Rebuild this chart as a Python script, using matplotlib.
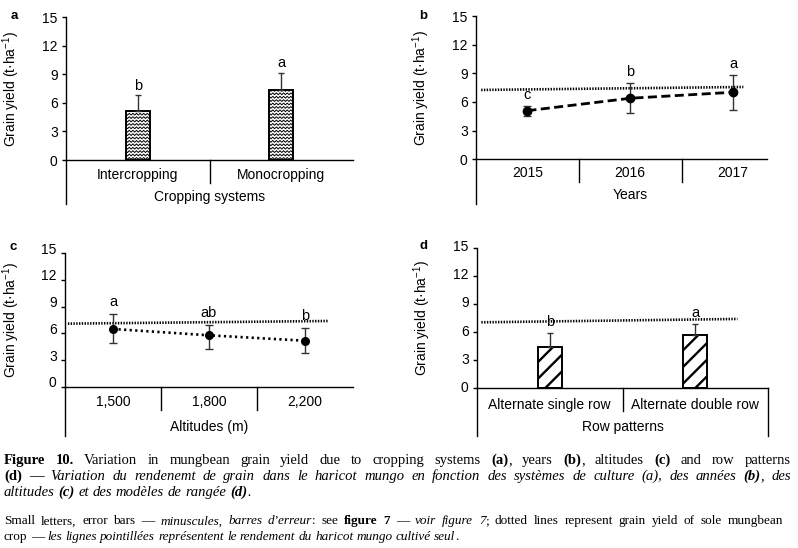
import numpy as np
import matplotlib
matplotlib.use("Agg")
import matplotlib.pyplot as plt
import matplotlib.transforms as mtransforms
from matplotlib.lines import Line2D

# ---- data ----
crop_systems = ['Intercropping', 'Monocropping']
crop_yield = [5.18, 7.36]
crop_err_top = [6.83, 9.18]
crop_letters = ['b', 'a']

years = ['2015', '2016', '2017']
year_yield = [5.09, 6.39, 7.02]
year_low = [4.53, 4.88, 5.16]
year_high = [5.58, 7.96, 8.83]
year_letters = ['c', 'b', 'a']
year_sole = [7.26, 7.57]

altitudes = ['1,500', '1,800', '2,200']
alt_yield = [6.49, 5.78, 5.17]
alt_low = [4.95, 4.24, 3.75]
alt_high = [8.14, 6.90, 6.64]
alt_letters = ['a', 'ab', 'b']
alt_sole = [7.09, 7.39]

row_patterns = ['Alternate single row', 'Alternate double row']
row_yield = [4.44, 5.69]
row_err_top = [5.87, 6.83]
row_letters = ['b', 'a']
row_sole = [7.04, 7.40]

yticks = [0, 3, 6, 9, 12, 15]
ylabel = 'Grain yield (t·ha$^{-1}$)'

W, H = 798, 548
plt.rcParams['font.family'] = ['Liberation Sans', 'DejaVu Sans']
plt.rcParams['mathtext.fontset'] = 'custom'
plt.rcParams['mathtext.rm'] = 'Liberation Sans'
plt.rcParams['mathtext.it'] = 'Liberation Sans:italic'
plt.rcParams['lines.scale_dashes'] = False
plt.rcParams['hatch.linewidth'] = 1.7

fig = plt.figure(figsize=(W / 100, H / 100), dpi=100)
ERR = '#333333'
SOLE = dict(color='black', lw=1.9, ls=(0, (1.0, 1.0)), zorder=1)


def px_axes(l, t, r, b):
    return fig.add_axes([l / W, (H - b) / H, (r - l) / W, (b - t) / H])


def setup(ax, xlim, dividers, labels, label_x, title, title_x, lab_off, title_off,
          ext, letter, letter_xy, ylab_x, right_line=False, label_shift=0):
    ax.set_xlim(*xlim)
    ax.set_ylim(0, 15)
    for s in ['top', 'right']:
        ax.spines[s].set_visible(False)
    for s in ['left', 'bottom']:
        ax.spines[s].set_linewidth(1.0)
    ax.set_xticks([])
    ax.set_yticks(yticks)
    ax.tick_params(axis='y', direction='out', length=3, width=1, pad=3, labelsize=10)
    if label_shift:
        off = mtransforms.ScaledTranslation(0, label_shift / 100, fig.dpi_scale_trans)
        for lab in ax.get_yticklabels():
            lab.set_transform(lab.get_transform() + off)
    pos = ax.get_position()
    wpx, hpx = pos.width * W, pos.height * H
    ax.set_ylabel(ylabel, fontsize=10)
    # label centre x in pixels -> right edge of the rotated label
    ax.yaxis.set_label_coords((ylab_x + 7 - pos.x0 * W) / wpx, 0.5)
    trans = mtransforms.blended_transform_factory(ax.transData, ax.transAxes)
    # y axis continues below the x axis
    ax.add_line(Line2D([0, 0], [0, -ext / hpx], transform=ax.transAxes,
                       color='black', lw=1.0, clip_on=False))
    if right_line:
        ax.add_line(Line2D([1, 1], [0, -ext / hpx], transform=ax.transAxes,
                           color='black', lw=1.0, clip_on=False))
    for d in dividers:
        ax.add_line(Line2D([d, d], [0, -23 / hpx], transform=trans,
                           color='black', lw=1.0, clip_on=False))
    for x, lab in zip(label_x, labels):
        ax.annotate(lab, xy=(x, 0), xycoords=trans, xytext=(0, -lab_off),
                    textcoords='offset pixels', ha='center', va='center', fontsize=10)
    ax.annotate(title, xy=(title_x, 0), xycoords=trans,
                xytext=(0, -title_off), textcoords='offset pixels',
                ha='center', va='center', fontsize=10)
    fig.text(letter_xy[0] / W, (H - letter_xy[1]) / H, letter, ha='center',
             va='center', fontsize=9.5, fontweight='bold')


def put_letters(ax, xs, tops, letters, off):
    for x, t, lt in zip(xs, tops, letters):
        ax.annotate(lt, xy=(x, t), xytext=(0, off), textcoords='offset pixels',
                    ha='center', va='center', fontsize=10.5)


# ---------- panel a ----------
ax = px_axes(66, 17.3, 353, 160)
xa = np.arange(len(crop_systems))
bars = ax.bar(xa, crop_yield, width=0.168, color='white', edgecolor='black',
              linewidth=1.4, zorder=2)
up = np.array(crop_err_top) - np.array(crop_yield)
ax.errorbar(xa, crop_yield, yerr=[np.zeros_like(up), up], fmt='none',
            ecolor=ERR, elinewidth=1, capsize=2.5, capthick=1, zorder=3)
# wavy fill of the bars
xpp = 2.0 / 287
ypp = 15 / 142.7
for b in bars:
    x0, w, h = b.get_x(), b.get_width(), b.get_height()
    xs = np.arange(x0, x0 + w + xpp, 1.8 * xpp)
    wig = np.where(np.arange(len(xs)) % 2 == 0, 0.9, -0.9) * ypp
    for y0 in np.arange(1.6 * ypp, h, 3.4 * ypp):
        ln = ax.plot(xs, y0 + wig, color='black', lw=0.7, zorder=2.5)[0]
        ln.set_clip_path(b)
put_letters(ax, xa, crop_err_top, crop_letters, 9.5)
setup(ax, (-0.5, 1.5), [0.5], crop_systems, xa, 'Cropping systems', 0.5,
      15, 37, 44, 'a', (14, 16), 15)

# ---------- panel b ----------
ax = px_axes(476, 16, 767, 159.3)
xb = np.arange(len(years))
ax.plot([-0.45, 2.1], year_sole, **SOLE)
ax.plot(xb, year_yield, color='black', lw=2.0, ls=(0, (6.5, 3.2)), zorder=2)
ax.errorbar(xb, year_yield,
            yerr=[np.array(year_yield) - np.array(year_low),
                  np.array(year_high) - np.array(year_yield)],
            fmt='o', color='black', ms=6, ecolor=ERR, elinewidth=1,
            capsize=2.8, capthick=1, zorder=3)
put_letters(ax, xb, year_high, year_letters, 11)
setup(ax, (-0.5, 2.33), [0.5, 1.5], years, xb, 'Years', 1, 13.5, 36, 45,
      'b', (423, 16), 425)

# ---------- panel c ----------
ax = px_axes(65, 253.3, 353, 386.7)
xc = np.arange(len(altitudes))
ax.plot([-0.47, 2.25], alt_sole, **SOLE)
ax.plot(xc, alt_yield, color='black', lw=1.9, ls=(0, (1.6, 2.4)), zorder=2)
ax.errorbar(xc, alt_yield,
            yerr=[np.array(alt_yield) - np.array(alt_low),
                  np.array(alt_high) - np.array(alt_yield)],
            fmt='o', color='black', ms=5.5, ecolor=ERR, elinewidth=1,
            capsize=2.8, capthick=1, zorder=3)
put_letters(ax, xc, alt_high, alt_letters, 12)
setup(ax, (-0.5, 2.5), [0.5, 1.5], altitudes, xc, 'Altitudes (m)', 1,
      15, 40, 49, 'c', (13, 247), 15, label_shift=5)

# ---------- panel d ----------
ax = px_axes(477, 247.7, 768, 388.3)
xd = np.arange(len(row_patterns))
ax.plot([-0.47, 1.29], row_sole, **SOLE)
ax.bar(xd, row_yield, width=0.163, color='white', edgecolor='black',
       linewidth=1.4, hatch='//', zorder=2)
up = np.array(row_err_top) - np.array(row_yield)
ax.errorbar(xd, row_yield, yerr=[np.zeros_like(up), up], fmt='none',
            ecolor=ERR, elinewidth=1, capsize=2.5, capthick=1, zorder=3)
put_letters(ax, xd, row_err_top, row_letters, 11)
setup(ax, (-0.5, 1.5), [0.5], row_patterns, xd, 'Row patterns', 0.5,
      17, 39, 48, 'd', (423, 246), 426, right_line=True, label_shift=2)

# ---------- caption ----------
R = dict(style='normal', weight='normal')
B = dict(style='normal', weight='bold')
I = dict(style='italic', weight='normal')
BI = dict(style='italic', weight='bold')

para1 = [
    [('Figure 10.', B), (' Variation in mungbean grain yield due to cropping systems ', R),
     ('(a)', B), (', years ', R), ('(b)', B), (', altitudes ', R), ('(c)', B),
     (' and row patterns', R)],
    [('(d)', B), (' — ', R), ('Variation du rendenemt de grain dans le haricot mungo en fonction '
                             'des systèmes de culture (a), des années ', I), ('(b)', BI),
     (', des', I)],
    [('altitudes ', I), ('(c)', BI), (' et des modèles de rangée ', I), ('(d)', BI), ('.', I)],
]
para2 = [
    [('Small letters, error bars — ', R), ('minuscules, barres d’erreur', I), (': see ', R),
     ('figure 7', B), (' — ', R), ('voir figure 7', I),
     ('; dotted lines represent grain yield of sole mungbean', R)],
    [('crop — ', R), ('les lignes pointillées représentent le rendement du haricot mungo '
                      'cultivé seul', I), ('.', R)],
]

renderer = fig.canvas.get_renderer()


def tokens(segs):
    toks = []
    glue = False
    for text, st in segs:
        parts = text.split(' ')
        for i, p in enumerate(parts):
            if p == '':
                glue = False
                continue
            if i == 0 and glue and toks:
                toks[-1].append((p, st))
            else:
                toks.append([(p, st)])
            glue = True
        if text.endswith(' '):
            glue = False
    return toks


def measure(tok, size):
    w = 0
    for p, st in tok:
        t = fig.text(0, 0, p, fontsize=size, family='Liberation Serif', **st)
        w += t.get_window_extent(renderer).width
        t.remove()
    return w


def paragraph(lines, x0, x1, baselines, size):
    toks_all = [tokens(l) for l in lines]
    for toks in toks_all[:-1]:
        space = 0.18 * size * 100 / 72
        nat = sum(measure(t, size) for t in toks) + space * (len(toks) - 1)
        if nat > (x1 - x0):
            size *= (x1 - x0) / nat
    space = 0.25 * size * 100 / 72
    for li, (toks, yb) in enumerate(zip(toks_all, baselines)):
        widths = [measure(t, size) for t in toks]
        if li < len(toks_all) - 1:
            gap = (x1 - x0 - sum(widths)) / (len(toks) - 1)
        else:
            gap = space
        x = x0
        for tok, w in zip(toks, widths):
            xx = x
            for p, st in tok:
                t = fig.text(xx / W, (H - yb) / H, p, fontsize=size,
                             family='Liberation Serif', va='baseline', **st)
                xx += t.get_window_extent(renderer).width
            x += w + gap


paragraph(para1, 4, 791, [464.3, 480.3, 496.3], 10.5)
paragraph(para2, 4, 783, [524.3, 540.3], 9.5)

fig.savefig('out.png', dpi=100)
